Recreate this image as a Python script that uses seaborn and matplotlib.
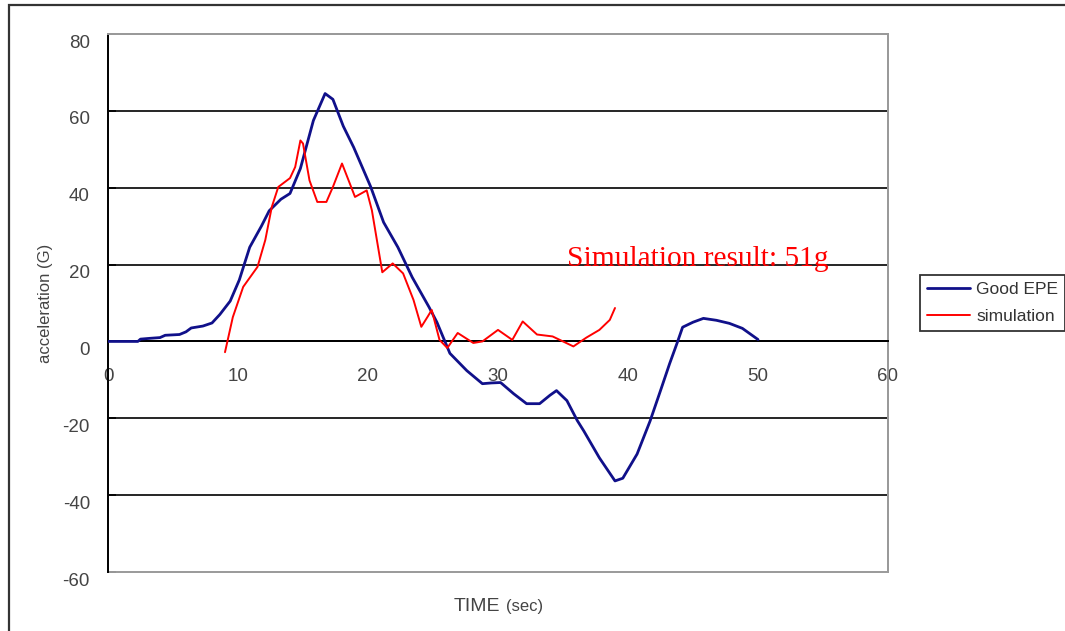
import numpy as np
import matplotlib
matplotlib.use("Agg")
import matplotlib.pyplot as plt
import matplotlib.transforms as mtransforms
import pandas as pd
import seaborn as sns
from matplotlib import font_manager
from matplotlib.patches import Rectangle

# Data
good_t = [0, 2.3, 2.5, 3.2, 4.0, 4.4, 5.5, 6.0, 6.4, 7.3, 8.0, 8.6, 9.4, 10.1, 10.9, 11.8,
          12.4, 13.3, 14.0, 14.8, 15.8, 16.7, 17.3, 18.1, 18.9, 20.2, 21.2, 22.3, 23.4, 24.7,
          25.3, 26.3, 27.6, 28.8, 29.5, 30.2, 31.2, 32.2, 33.2, 34.0, 34.5, 35.3, 36.1, 36.6,
          37.8, 39.0, 39.6, 40.7, 41.7, 42.5, 43.2, 43.8, 44.2, 45.0, 45.8, 46.8, 47.8, 48.8, 50.0]
good_g = [0, 0, 0.6, 0.8, 1.0, 1.6, 1.8, 2.5, 3.5, 4.0, 4.8, 7.0, 10.5, 16, 24.5, 30,
          34, 37, 38.5, 45, 57.5, 64.5, 63, 56, 50.5, 40.3, 31, 24.5, 16.7, 8.9,
          5, -3.1, -7.6, -11, -10.8, -10.7, -13.6, -16.2, -16.2, -14, -12.8, -15.4, -20.6, -23.3,
          -30.3, -36.3, -35.6, -29.3, -20.7, -12.8, -5.8, -0.2, 3.7, 5, 6, 5.5, 4.7, 3.4, 0.5]

sim_t = [9.0, 9.6, 10.4, 11.5, 12.1, 12.6, 13.1, 14.0, 14.4, 14.8, 15.0, 15.5, 16.1, 16.8,
         17.3, 18.0, 18.6, 19.0, 19.9, 20.3, 21.1, 21.9, 22.7, 23.5, 24.1, 24.6, 24.9, 25.5,
         26.1, 26.9, 28.1, 28.8, 30.0, 31.1, 31.9, 33.0, 34.2, 35.8, 36.8, 37.8, 38.6, 39.0]
sim_g = [-2.8, 6.3, 14.2, 19.4, 26.4, 35, 40.2, 42.5, 45.4, 52.3, 51.5, 41.9, 36.3, 36.3,
         40.2, 46.3, 41.1, 37.6, 39.3, 34.1, 18, 20.3, 17.7, 10.8, 3.8, 6.5, 8.2, 0.4,
         -1.7, 2.2, -0.4, 0, 3, 0.4, 5.2, 1.8, 1.3, -1.3, 1, 3, 5.6, 8.7]

x_ticks = [0, 10, 20, 30, 40, 50, 60]
y_ticks = [-60, -40, -20, 0, 20, 40, 60, 80]
note = "Simulation result: 51g"

# Setup
sns.set_style("white")
names = {f.name for f in font_manager.fontManager.ttflist}
narrow = "Liberation Sans Narrow" if "Liberation Sans Narrow" in names else "Liberation Sans"
plt.rcParams["font.family"] = [narrow, "DejaVu Sans"]
plt.rcParams["axes.unicode_minus"] = False

fig = plt.figure(figsize=(10.65, 6.31), dpi=100)
ax = fig.add_axes([108 / 1065, 1 - 572 / 631, 780 / 1065, 538 / 631])

good = pd.DataFrame({"t": good_t, "g": good_g})
sim = pd.DataFrame({"t": sim_t, "g": sim_g})
sns.lineplot(data=good, x="t", y="g", color="#10108a", linewidth=2.0, estimator=None,
             label="Good EPE", ax=ax, zorder=4)
sns.lineplot(data=sim, x="t", y="g", color="#ff0000", linewidth=1.4, estimator=None,
             label="simulation", ax=ax, zorder=5)

ax.set_xlim(0, 60)
ax.set_ylim(-60, 80)
ax.set_xticks(x_ticks)
ax.set_yticks(y_ticks)
ax.set_xlabel("")

# gridlines (not at the plot border)
ax.yaxis.grid(True, color="black", linewidth=1.2)
for line, t in zip(ax.get_ygridlines(), y_ticks):
    if t in (-60, 80):
        line.set_visible(False)

# axis styling, Excel-like
ax.spines["bottom"].set_position(("data", 0))
ax.spines["bottom"].set_color("black")
ax.spines["bottom"].set_linewidth(1.4)
ax.spines["left"].set_color("black")
ax.spines["left"].set_linewidth(1.4)
for s in ("top", "right"):
    ax.spines[s].set_color("#9a9a9a")
    ax.spines[s].set_linewidth(1.4)
ax.add_patch(Rectangle((0, 0), 1, 1, transform=ax.transAxes, fill=False,
                       edgecolor="#9a9a9a", linewidth=1.4, zorder=1, clip_on=False))

ax.tick_params(axis="x", direction="in", length=5, width=1.2, color="black",
               pad=19, labelsize=13.5, labelcolor="#444444")
ax.tick_params(axis="y", direction="in", length=6, width=1.2, color="black",
               pad=13, labelsize=13.5, labelcolor="#444444", left=True)

# Excel puts the value labels a little below their tick
shift = mtransforms.ScaledTranslation(0, -7 / 100, fig.dpi_scale_trans)
for lab in ax.get_yticklabels():
    lab.set_transform(lab.get_transform() + shift)

ax.set_ylabel("acceleration (G)", fontsize=12, color="#444444")
ax.yaxis.set_label_coords(-0.071, 0.5)
ax.text(0.503, -0.064, "TIME", transform=ax.transAxes, ha="right", va="center",
        fontsize=14, color="#444444", family=["Liberation Sans", "DejaVu Sans"])
ax.text(0.510, -0.064, "(sec)", transform=ax.transAxes, ha="left", va="center",
        fontsize=12, color="#444444")

ax.text(35.3, 19.7, note, color="#ff0000", fontsize=21.2, va="baseline", ha="left",
        family=["Liberation Serif", "DejaVu Serif"], zorder=6)

# legend sticking out of the right side, as in the reference
leg = ax.legend(loc="upper left", bbox_to_anchor=(920 / 1065, 1 - 275 / 631),
                bbox_transform=fig.transFigure, borderaxespad=0, frameon=True,
                fancybox=False, edgecolor="black", fontsize=12.5, handlelength=2.5,
                handletextpad=0.35, labelspacing=0.7, borderpad=0.38)
leg.get_frame().set_linewidth(1.3)
for txt in leg.get_texts():
    txt.set_color("#333333")

# outer chart frame
fig.add_artist(Rectangle((9 / 1065, -0.1), 1.2, 1.1 - 5 / 631, transform=fig.transFigure,
                         fill=False, edgecolor="#333333", linewidth=1.6))

plt.savefig("out.png", dpi=100)
